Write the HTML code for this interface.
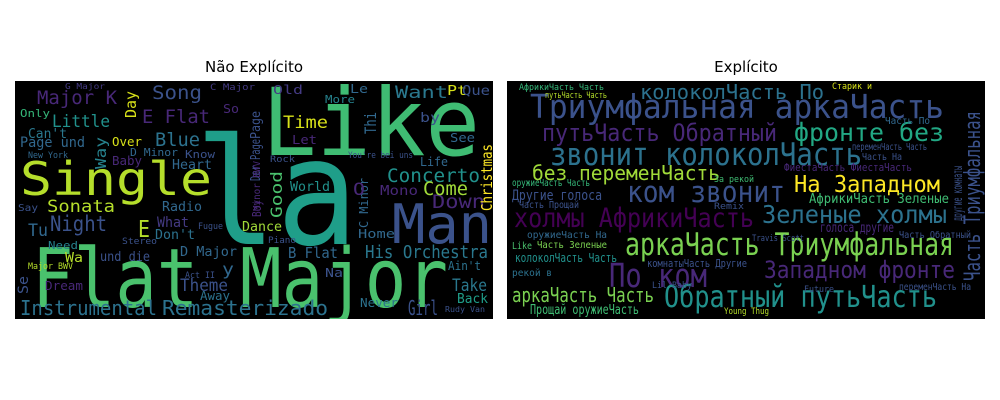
<!DOCTYPE html>
<html><head><meta charset="utf-8"><style>
html,body{margin:0;padding:0;background:#fff;width:1000px;height:400px;overflow:hidden}
svg{display:block}
.t{font-family:"DejaVu Sans Mono","Liberation Mono",monospace}
.title{font-family:"DejaVu Sans","Liberation Sans",sans-serif;font-size:15px;fill:#000}
</style></head><body>
<svg id="chart" width="1000" height="400" viewBox="0 0 1000 400">
<defs><clipPath id="clip"><rect width="478" height="238"/></clipPath></defs>
<text class="title" x="254" y="72" text-anchor="middle">Não Explícito</text>
<text class="title" x="746" y="72" text-anchor="middle">Explícito</text>
<g transform="translate(15,81)"><g id="p1" clip-path="url(#clip)"><rect width="478" height="238" fill="#000"/></g></g>
<g transform="translate(507,81)"><g id="p2" clip-path="url(#clip)"><rect width="478" height="238" fill="#000"/></g></g>
</svg>
<script>
// word, x, baseline, width, fontSize, color, vertical
const words1 = [
["la",180,163,163,148,"#1f9e89",0],
["Like",247,74,218,94,"#3fbc73",0],
["Single",5,114,192,46,"#b5de2b",0],
["Flat Major",17,226,416,82,"#4ac16d",0],
["Man",377,162,100,54,"#3b528b",0],
["Instrumental",5,234,137,20,"#2c728e",0],
["Remasterizado",147,234,166,20,"#2c728e",0],
["Girl",393,234,30,20,"#3b528b",0],
["His Orchestra",350,177,123,18,"#2a788e",0],
["Concerto",372,101,93,19,"#21918c",0],
["Down",417,127,53,19,"#482878",0],
["Come",408,114,45,19,"#a0da39",0],
["Want",380,17,53,17,"#2a788e",0],
["Sonata",32,131,68,17,"#b5de2b",0],
["Night",35,150,57,21,"#3b528b",0],
["Major K",22,23,80,19,"#482878",0],
["Song",137,18,50,19,"#3b528b",0],
["Little",37,46,58,17,"#21918c",0],
["E Flat",127,42,68,19,"#482878",0],
["Blue",140,65,45,19,"#2c728e",0],
["Time",268,47,45,17,"#d8e219",0],
["Theme",165,210,48,17,"#3b528b",0],
["Take",437,210,35,17,"#2a788e",0],
["Back",442,222,31,13,"#1f9e89",0],
["Page und",5,66,65,14,"#31688e",0],
["Can't",13,57,39,13,"#2a788e",0],
["World",275,110,40,13,"#21918c",0],
["Dance",227,150,40,13,"#a0da39",0],
["D Major",165,175,57,13,"#31688e",0],
["B Flat",273,177,50,15,"#31688e",0],
["Radio",147,130,40,13,"#31688e",0],
["Heart",157,88,40,13,"#31688e",0],
["Tu",13,155,20,17,"#31688e",0],
["What",142,146,32,14,"#443a83",0],
["Don't",140,158,40,13,"#2c728e",0],
["E",123,156,12,23,"#b5de2b",0],
["Over",97,65,30,12,"#d8e219",0],
["Know",170,77,30,11,"#3b528b",0],
["D Minor",115,75,48,11,"#31688e",0],
["Baby",97,84,30,12,"#482878",0],
["Need",33,168,30,11,"#26828e",0],
["und die",85,180,50,13,"#3b528b",0],
["Wa",50,181,18,13,"#b5de2b",0],
["Dream",30,209,38,12,"#482878",0],
["Away",185,219,30,12,"#2c728e",0],
["Home",343,157,37,12,"#31688e",0],
["Mono",365,114,38,13,"#482878",0],
["Life",405,85,28,12,"#31688e",0],
["See",435,61,25,12,"#31688e",0],
["by",405,41,20,13,"#3b528b",0],
["Pt",432,14,20,13,"#d8e219",0],
["Que",447,14,28,13,"#3b528b",0],
["Old",258,13,30,12,"#443a83",0],
["More",310,22,30,11,"#26828e",0],
["Le",335,12,18,12,"#31688e",0],
["Let",277,63,25,12,"#482878",0],
["So",208,32,16,12,"#482878",0],
["Never",345,226,38,12,"#2c728e",0],
["Ain't",433,189,33,12,"#2c728e",0],
["Na",310,196,18,12,"#3b528b",0],
["Only",5,36,30,11,"#35b779",0],
["Christmas",477,130,67,15,"#fde725",1],
["Good",267,137,47,16,"#4ac16d",1],
["Day",121,37,27,15,"#d8e219",1],
["Way",91,88,32,15,"#26828e",1],
["Page",245,58,28,13,"#3b528b",1],
["Der Page",245,100,42,13,"#3b528b",1],
["Thi",361,53,22,16,"#31688e",1],
["C Minor",353,147,50,12,"#31688e",1],
["Se",13,213,18,14,"#3b528b",1],
["Minor BWV",245,130,50,10,"#482878",1],
["Boy",246,136,17,12,"#482878",1],
["O",338,114,12,17,"#482878",0],
["y",207,194,12,17,"#31688e",0],
["G Major",50,8,40,8,"#443a83",0],
["C Major",195,9,45,9,"#443a83",0],
["Act II",170,197,30,9,"#3b528b",0],
["Stereo",107,163,35,9,"#3b528b",0],
["Piano",253,162,28,9,"#3b528b",0],
["Major BWV",13,188,45,9,"#b5de2b",0],
["Rudy Van",430,231,40,8,"#3b528b",0],
["You're bei uns",333,77,65,9,"#3b528b",0],
["Rock",255,81,25,9,"#3b528b",0],
["New York",13,77,40,9,"#31688e",0],
["Say",3,130,20,10,"#3b528b",0],
["Fugue",183,148,25,9,"#3b528b",0]
];
const words2 = [
["Триумфальная аркаЧасть",23,37,414,33,"#3b528b",0],
["колоколЧасть По",133,18,184,20,"#2c728e",0],
["путьЧасть Обратный",35,60,235,24,"#482878",0],
["фронте без",287,60,150,25,"#22a884",0],
["звонит колоколЧасть",43,84,312,31,"#2c728e",0],
["без переменЧасть",25,99,188,20,"#a0da39",0],
["На Западном",287,111,146,23,"#fde725",0],
["ком звонит",120,121,158,29,"#3b528b",0],
["холмы АфрикиЧасть",7,146,240,27,"#440154",0],
["Зеленые холмы",255,142,185,25,"#2c728e",0],
["аркаЧасть Триумфальная",118,174,329,31,"#7ad151",0],
["По ком",102,206,98,33,"#482878",0],
["Западном фронте",257,197,191,24,"#482878",0],
["аркаЧасть Часть",5,221,142,20,"#7ad151",0],
["Обратный путьЧасть",157,226,273,30,"#21918c",0],
["Прощай оружиеЧасть",23,233,109,13,"#3fbc73",0],
["Другие голоса",5,119,90,14,"#3b528b",0],
["АфрикиЧасть Зеленые",302,122,140,13,"#3fbc73",0],
["голоса другие",313,151,74,13,"#482878",0],
["колоколЧасть Часть",8,181,102,12,"#21918c",0],
["ФиестаЧасть ФиестаЧасть",277,90,128,11,"#482878",0],
["Часть Зеленые",30,167,70,10,"#7ad151",0],
["оружиеЧасть На",20,157,80,10,"#31688e",0],
["оружиеЧасть Часть",5,105,78,10,"#35b779",0],
["Часть Прощай",12,127,60,10,"#3b528b",0],
["комнатыЧасть Другие",140,186,100,11,"#3b528b",0],
["Часть По",378,43,45,10,"#31688e",0],
["переменЧасть Часть",345,69,75,10,"#3b528b",0],
["Часть На",355,79,40,10,"#3b528b",0],
["За рекой",207,101,40,9,"#3fbc73",0],
["рекой в",5,195,40,10,"#2c728e",0],
["Like",5,168,20,10,"#4ac16d",0],
["Travis Scott",245,160,52,9,"#3b528b",0],
["Lil Baby",145,207,40,9,"#3b528b",0],
["Часть Обратный",392,157,72,10,"#3b528b",0],
["переменЧасть На",392,209,72,10,"#3b528b",0],
["Старик и",325,8,40,9,"#d8e219",0],
["АфрикиЧасть Часть",12,9,85,9,"#35b779",0],
["путьЧасть Часть",38,17,62,9,"#b5de2b",0],
["Young Thug",217,233,45,9,"#b5de2b",0],
["Future",297,211,30,9,"#3b528b",0],
["Remix",207,128,30,9,"#3b528b",0],
["Часть Триумфальная",473,200,170,22,"#3b528b",1],
["другие комнаты",455,140,55,13,"#3b528b",1]
];
function draw(id, arr){
  const g=document.getElementById(id);
  const ns="http://www.w3.org/2000/svg";
  arr.forEach(w=>{
    const t=document.createElementNS(ns,"text");
    
    
    t.setAttribute("class","t");
    t.setAttribute("x",w[1]);t.setAttribute("y",w[2]);
    t.setAttribute("font-size",w[4]);t.setAttribute("fill",w[5]);
    t.setAttribute("textLength",w[3]);t.setAttribute("lengthAdjust","spacingAndGlyphs");
    if(w[6]) t.setAttribute("transform","rotate(-90 "+w[1]+" "+w[2]+")");
    t.textContent=w[0];
    g.appendChild(t);
  });
}
draw("p1",words1);draw("p2",words2);
</script>
</body></html>
